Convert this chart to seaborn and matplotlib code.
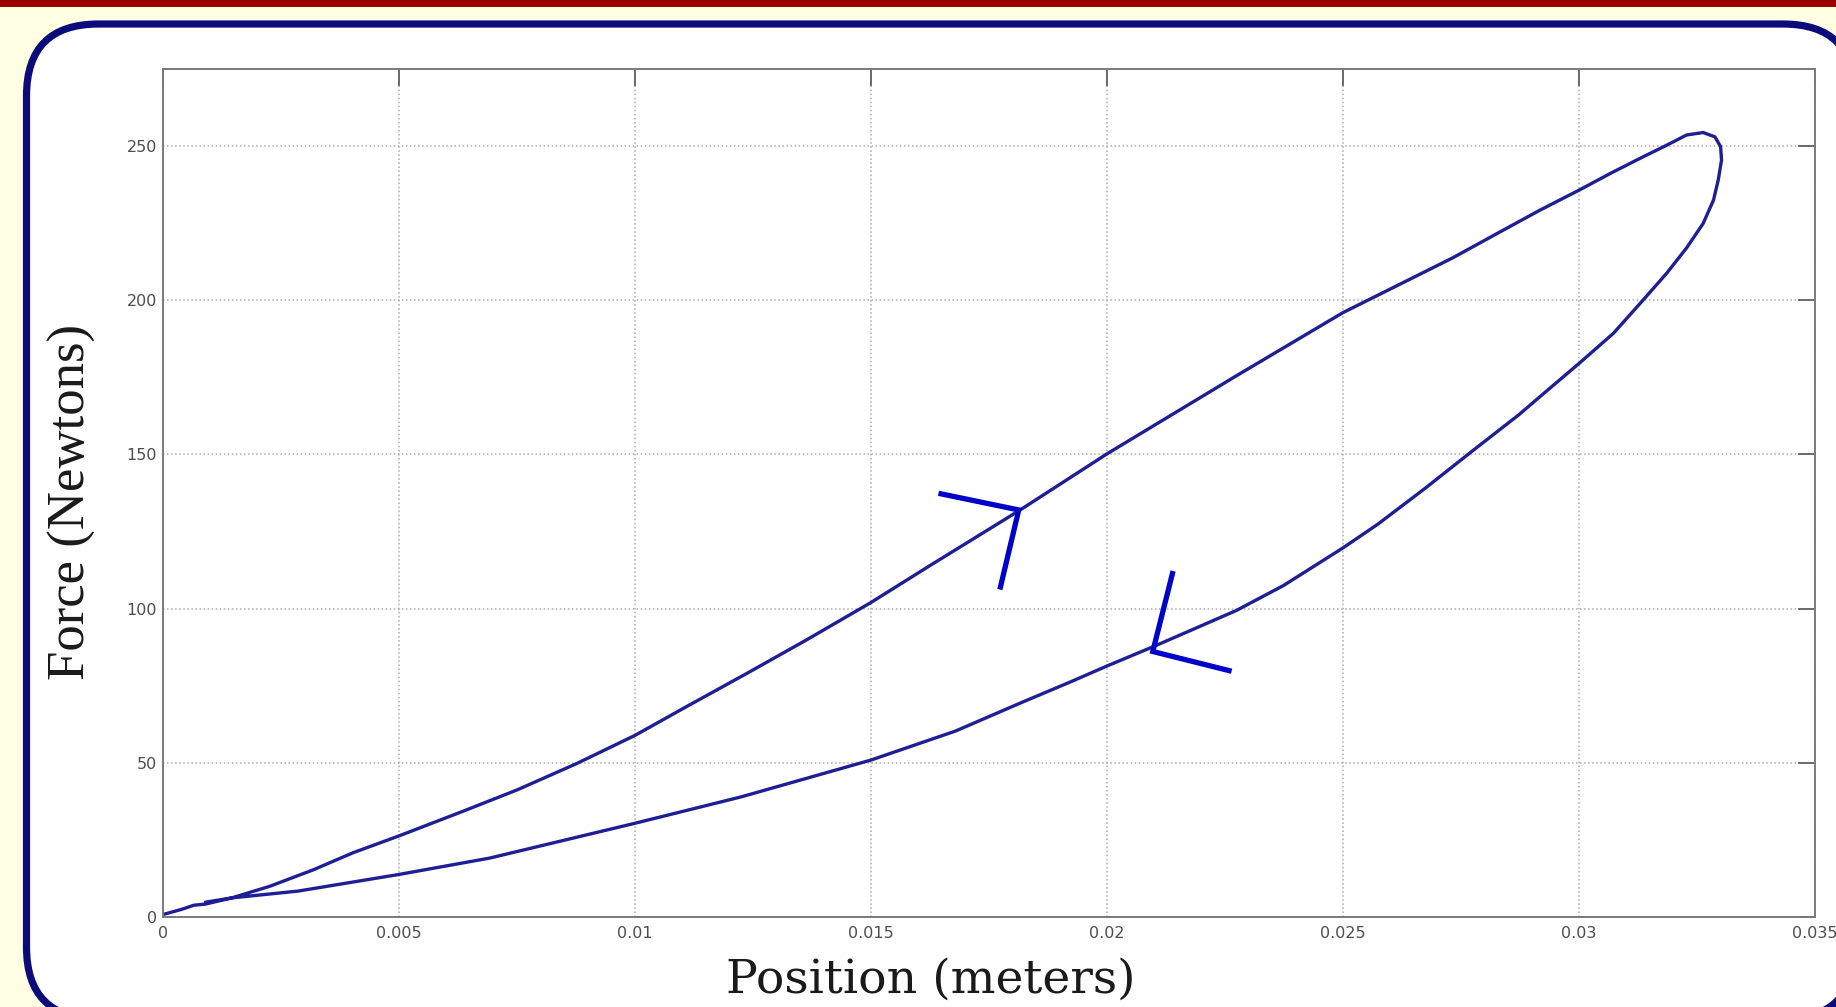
import numpy as np
import pandas as pd
import matplotlib
matplotlib.use('Agg')
import matplotlib.pyplot as plt
from matplotlib.patches import FancyBboxPatch, Rectangle
import seaborn as sns

# nhanh tang tai (loading) - position (m), force (N)
load_x = [0.0, 0.0004, 0.00065, 0.0009, 0.00146, 0.00227, 0.0032, 0.00402, 0.005,
          0.00634, 0.0075, 0.00877, 0.01, 0.0111, 0.01237, 0.01365, 0.015, 0.0162,
          0.01815, 0.02, 0.02274, 0.025, 0.02733, 0.02833, 0.02917, 0.03, 0.03066,
          0.03129, 0.03186, 0.03228, 0.03263, 0.03288, 0.03300, 0.03302]
load_y = [0.8, 2.5, 3.8, 4.2, 6.2, 10.0, 15.4, 20.8, 26.3,
          34.2, 41.2, 49.8, 58.9, 68.3, 79.0, 90.0, 102.0, 113.5,
          131.9, 150.2, 175.5, 196.0, 213.8, 222.2, 229.2, 235.7, 241.1,
          246.0, 250.3, 253.6, 254.4, 253.0, 249.8, 245.5]

# nhanh giam tai (unloading)
unload_x = [0.03295, 0.03285, 0.03263, 0.03228, 0.03186, 0.03136, 0.03073, 0.03,
            0.02917, 0.02872, 0.02773, 0.02673, 0.02573, 0.025, 0.02374, 0.02274,
            0.021, 0.02, 0.01925, 0.01812, 0.01679, 0.015, 0.01226, 0.01, 0.00692,
            0.005, 0.00286, 0.00146, 0.0009]
unload_y = [239.0, 232.5, 224.9, 217.0, 208.8, 200.1, 189.3, 179.5,
            168.7, 162.8, 151.0, 138.9, 127.3, 119.7, 107.5, 99.4,
            87.8, 81.4, 76.4, 69.1, 60.3, 50.9, 39.0, 30.4, 19.1,
            13.8, 8.4, 6.2, 4.8]

# hai mui ten chi chieu
arrow_up_x = [0.01643, 0.01813, 0.01773]
arrow_up_y = [137.4, 132.0, 106.2]
arrow_down_x = [0.0214, 0.02097, 0.02264]
arrow_down_y = [112.2, 86.1, 79.7]

x_ticks = [0, 0.005, 0.01, 0.015, 0.02, 0.025, 0.03, 0.035]
x_tick_labels = ['0', '0.005', '0.01', '0.015', '0.02', '0.025', '0.03', '0.035']
y_ticks = [0, 50, 100, 150, 200, 250]

df = pd.DataFrame({
    'pos': load_x + unload_x,
    'force': load_y + unload_y,
})

sns.set_style('white')
plt.rcParams['font.family'] = ['DejaVu Sans']

W, H = 1836, 1007
fig = plt.figure(figsize=(W / 100, H / 100), dpi=100)
fig.patch.set_facecolor('#FFFFE3')

# nen trang tri (khung bo tron)
bg = fig.add_axes([0, 0, 1, 1], zorder=0)
bg.set_xlim(0, W)
bg.set_ylim(H, 0)
bg.axis('off')
bg.add_patch(Rectangle((0, 0), W, 6.5, facecolor='#990000', edgecolor='none'))
bg.add_patch(FancyBboxPatch((26.5, 24), 1855 - 26.5, 1019 - 24,
                            boxstyle='round,pad=0,rounding_size=72',
                            facecolor='white', edgecolor='#0B0B7A', linewidth=5.2,
                            clip_on=False))

ax = fig.add_axes([163 / W, 1 - 917 / H, (1815 - 163) / W, (917 - 69) / H], zorder=1)
ax.set_facecolor('white')

sns.lineplot(data=df, x='pos', y='force', sort=False, estimator=None,
             color='#1E1E96', linewidth=2.4, ax=ax)
ax.plot(arrow_up_x, arrow_up_y, color='#0000CC', linewidth=3.8,
        solid_capstyle='butt', solid_joinstyle='miter')
ax.plot(arrow_down_x, arrow_down_y, color='#0000CC', linewidth=3.8,
        solid_capstyle='butt', solid_joinstyle='miter')

ax.set_xlim(0, 0.035)
ax.set_ylim(0, 275)
ax.set_xticks(x_ticks)
ax.set_xticklabels(x_tick_labels)
ax.set_yticks(y_ticks)
ax.grid(True, linestyle=':', color='#AAAAAA', linewidth=1.1)

for s in ax.spines.values():
    s.set_visible(True)
    s.set_color('#7A7A7A')
    s.set_linewidth(1.4)

ax.tick_params(axis='both', direction='in', length=12, width=1.4, color='#6A6A6A',
               labelsize=11.5, labelcolor='#4D4D4D', top=True, right=True)
ax.tick_params(axis='x', pad=6.5)
ax.tick_params(axis='y', pad=4.5)

ax.set_xlabel('Position (meters)', family=['DejaVu Serif'],
              fontsize=34, color='#1A1A1A')
ax.set_ylabel('Force (Newtons)', family=['Liberation Serif', 'DejaVu Serif'],
              fontsize=38, color='#1A1A1A')
ax.xaxis.label.set_va('center')
ax.yaxis.label.set_va('center')
ax.xaxis.set_label_coords(0.465, -0.074)
ax.yaxis.set_label_coords(-0.055, 0.49)

fig.savefig('out.png', dpi=100, facecolor=fig.get_facecolor())
